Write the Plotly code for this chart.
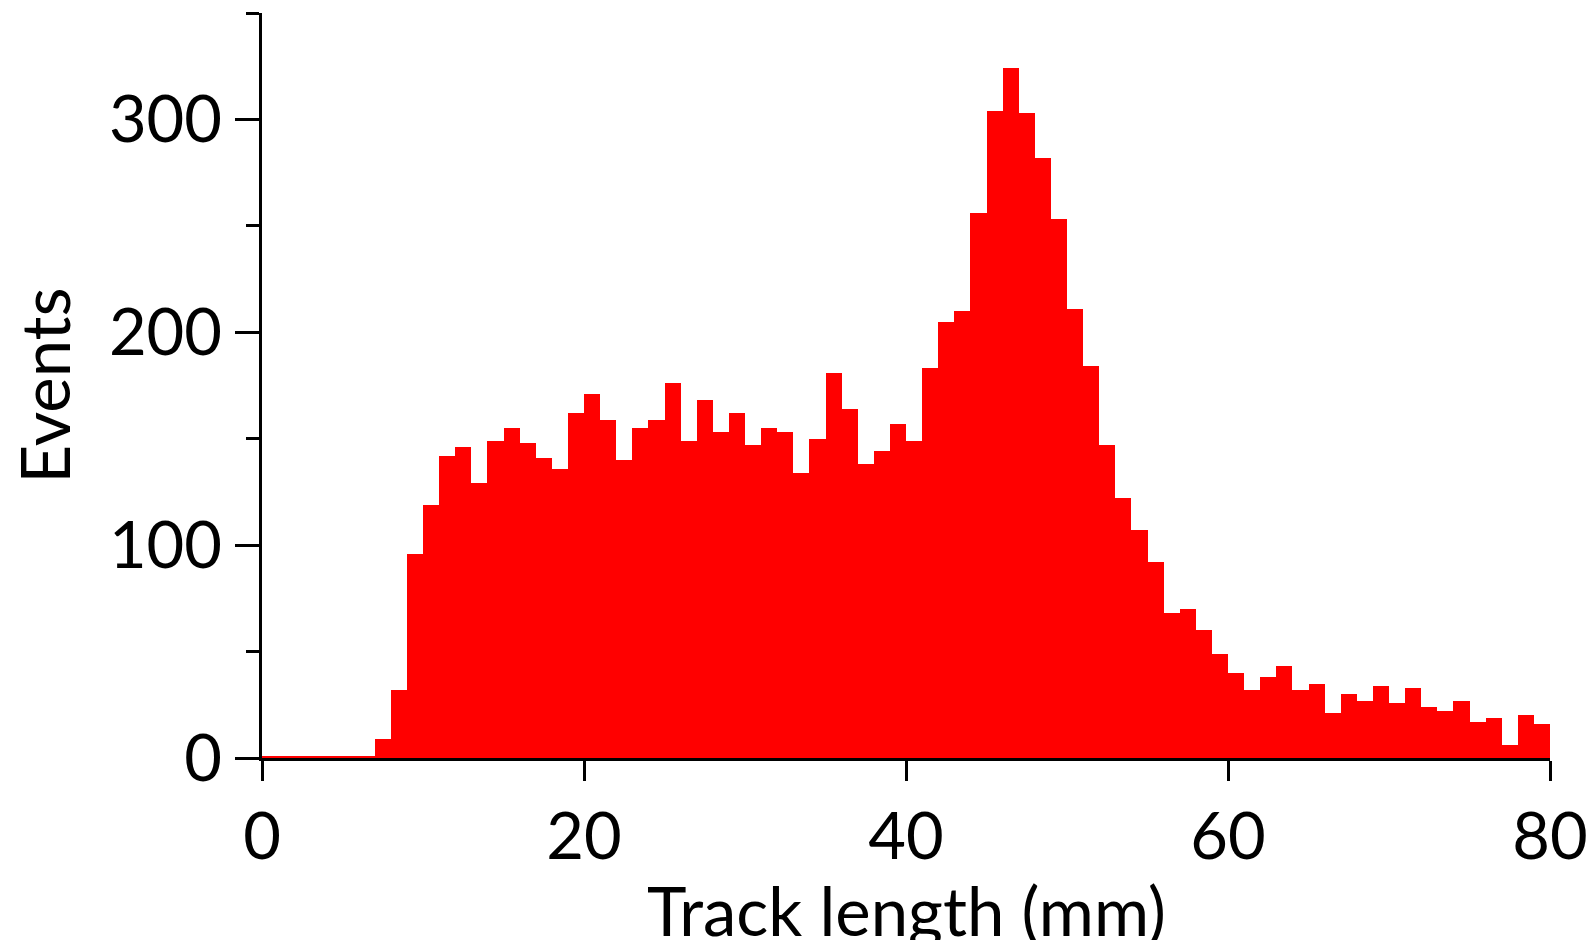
import numpy as np
import plotly.graph_objects as go

# Histogram of track lengths, 1 mm bins from 0 to 80 mm
bin_width = 1.0
bin_starts = list(range(0, 80))
counts = [
    1, 1, 1, 1, 1, 1, 1,
    9, 32, 96, 119, 142, 146, 129, 149, 155, 148,
    141, 136, 162, 171, 159, 140, 155, 159, 176, 149,
    168, 153, 162, 147, 155, 153, 134, 150, 181, 164,
    138, 144, 157, 149, 183, 205, 210, 256, 304, 324,
    303, 282, 253, 211, 184, 147,
    122, 107, 92, 68, 70, 60, 49, 40, 32, 38,
    43, 32, 35, 21, 30, 27, 34, 26, 33, 24,
    22, 27, 17, 19, 6, 20, 16,
]
x_ticks = [0, 20, 40, 60, 80]
y_ticks = [0, 100, 200, 300]
y_minor_ticks = [50, 150, 250, 350]

x_title = "Track length (mm)"
y_title = "Events"

FONT = "Lato"
FS = 65
TITLE_FS = 67
W, H = 1594, 940

centers = np.array(bin_starts) + bin_width / 2

fig = go.Figure(
    go.Bar(
        x=centers,
        y=counts,
        width=bin_width,
        marker=dict(color="#ff0000", line=dict(width=0)),
        hoverinfo="x+y",
    )
)

fig.update_layout(
    width=W,
    height=H,
    margin=dict(l=262, r=44, t=13, b=182, autoexpand=False),
    paper_bgcolor="white",
    plot_bgcolor="white",
    bargap=0,
    showlegend=False,
    font=dict(family=FONT, size=FS, color="black"),
)

fig.update_xaxes(
    range=[0, 80],
    automargin=False,
    tickmode="array",
    tickvals=x_ticks,
    ticks="outside",
    ticklen=20,
    tickwidth=3,
    tickcolor="black",
    showline=True,
    linecolor="black",
    linewidth=3,
    showgrid=False,
    zeroline=False,
    tickfont=dict(family=FONT, size=FS, color="black"),
)

fig.update_yaxes(
    range=[0, 350],
    automargin=False,
    tickmode="array",
    tickvals=y_ticks,
    ticks="outside",
    ticklen=24,
    tickwidth=3,
    tickcolor="black",
    minor=dict(
        tickmode="array",
        tickvals=y_minor_ticks,
        ticks="outside",
        ticklen=13,
        tickwidth=3,
        tickcolor="black",
    ),
    showline=True,
    linecolor="black",
    linewidth=3,
    showgrid=False,
    zeroline=False,
    tickfont=dict(family=FONT, size=FS, color="black"),
)

# Axis titles placed as annotations relative to the plot area
fig.add_annotation(
    text=x_title, xref="paper", yref="paper", x=0.5, y=0,
    xanchor="center", yanchor="top", yshift=-110, showarrow=False,
    font=dict(family=FONT, size=TITLE_FS, color="black"),
)
fig.add_annotation(
    text=y_title, xref="paper", yref="paper", x=0, y=0.5,
    xanchor="center", yanchor="middle", xshift=-219, textangle=-90,
    showarrow=False, font=dict(family=FONT, size=TITLE_FS, color="black"),
)

fig.write_html("out.html")
